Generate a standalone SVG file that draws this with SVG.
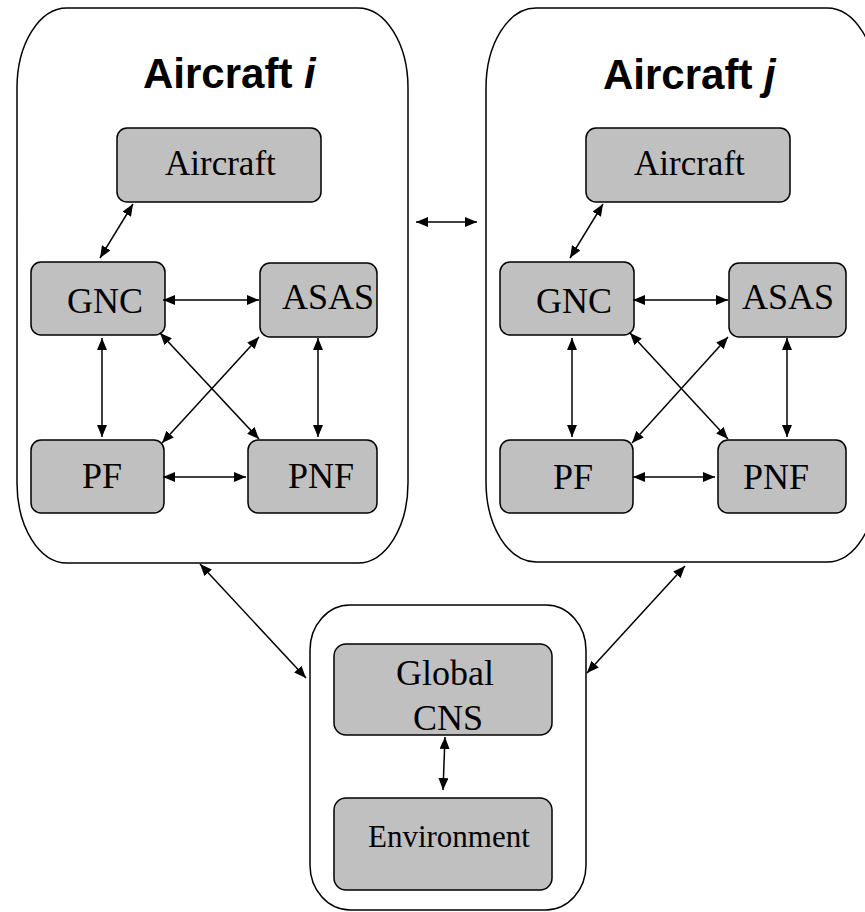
<svg xmlns="http://www.w3.org/2000/svg" width="865" height="912" viewBox="0 0 865 912">
  <style>
    .frame { fill: #ffffff; stroke: #000000; stroke-width: 1.5; }
    .box { fill: #c0c0c0; stroke: #000000; stroke-width: 1.5; }
    .title { font-family: "Liberation Sans", Arial, sans-serif; font-weight: bold; font-size: 42px; fill: #000000; }
    .label { font-family: "Liberation Serif", "Times New Roman", serif; font-size: 36px; fill: #000000; }
    .small { font-size: 35px; }
    .env { font-size: 31px; }
    .link { fill: none; stroke: #000000; stroke-width: 1.5; marker-start: url(#head); marker-end: url(#head); }
  </style>
  <defs>
    <marker id="head" viewBox="0 0 12 10" refX="12" refY="5" markerWidth="12" markerHeight="10" markerUnits="userSpaceOnUse" orient="auto-start-reverse">
      <path d="M0,0 L12,5 L0,10 z" fill="#000000"/>
    </marker>
  </defs>

  <rect width="865" height="912" fill="#ffffff"/>

  <!-- Aircraft i container -->
  <g id="aircraft-i">
    <rect class="frame" x="17" y="8" width="391" height="555" rx="50" ry="80"/>
    <text class="title" x="143" y="88">Aircraft <tspan font-style="italic">i</tspan></text>
    <g id="i-aircraft">
      <rect class="box" x="117" y="128" width="204" height="74" rx="10"/>
      <text class="label small" x="165" y="175">Aircraft</text>
    </g>
    <g id="i-gnc">
      <rect class="box" x="31" y="262" width="134" height="73" rx="10"/>
      <text class="label" x="67" y="313">GNC</text>
    </g>
    <g id="i-asas">
      <rect class="box" x="260" y="263" width="117" height="74" rx="10"/>
      <text class="label" x="282" y="309">ASAS</text>
    </g>
    <g id="i-pf">
      <rect class="box" x="31" y="440" width="133" height="73" rx="10"/>
      <text class="label" x="82" y="488">PF</text>
    </g>
    <g id="i-pnf">
      <rect class="box" x="248" y="440" width="129" height="73" rx="10"/>
      <text class="label" x="288" y="488">PNF</text>
    </g>
  </g>

  <!-- Aircraft j container (runs past the right edge of the canvas) -->
  <g id="aircraft-j">
    <rect class="frame" x="486" y="8" width="391" height="554" rx="50" ry="80"/>
    <text class="title" x="603" y="89">Aircraft <tspan font-style="italic">j</tspan></text>
    <g id="j-aircraft">
      <rect class="box" x="586" y="128" width="204" height="74" rx="10"/>
      <text class="label small" x="634" y="175">Aircraft</text>
    </g>
    <g id="j-gnc">
      <rect class="box" x="500" y="262" width="134" height="73" rx="10"/>
      <text class="label" x="536" y="313">GNC</text>
    </g>
    <g id="j-asas">
      <rect class="box" x="729" y="263" width="117" height="74" rx="10"/>
      <text class="label" x="742" y="309">ASAS</text>
    </g>
    <g id="j-pf">
      <rect class="box" x="500" y="440" width="133" height="73" rx="10"/>
      <text class="label" x="553" y="489">PF</text>
    </g>
    <g id="j-pnf">
      <rect class="box" x="718" y="440" width="128" height="73" rx="10"/>
      <text class="label" x="743" y="489">PNF</text>
    </g>
  </g>

  <!-- Ground side container -->
  <g id="ground">
    <rect class="frame" x="310" y="605" width="276" height="305" rx="40" ry="45"/>
    <g id="global-cns">
      <rect class="box" x="334" y="644" width="218" height="91" rx="12"/>
      <text class="label" x="396" y="685">Global</text>
      <text class="label" x="413" y="730">CNS</text>
    </g>
    <g id="environment">
      <rect class="box" x="334" y="798" width="218" height="92" rx="12"/>
      <text class="label env" x="368" y="847">Environment</text>
    </g>
  </g>

  <!-- Two-way links -->
  <g id="connectors">
    <!-- inside aircraft i -->
    <line class="link" x1="133" y1="204" x2="100" y2="258"/>
    <line class="link" x1="163" y1="300" x2="259" y2="300"/>
    <line class="link" x1="102" y1="338" x2="102" y2="437"/>
    <line class="link" x1="318" y1="338" x2="318" y2="437"/>
    <line class="link" x1="160" y1="333" x2="259" y2="439"/>
    <line class="link" x1="259" y1="337" x2="162" y2="443"/>
    <line class="link" x1="163" y1="477" x2="246" y2="477"/>
    <!-- inside aircraft j -->
    <line class="link" x1="603" y1="204" x2="570" y2="258"/>
    <line class="link" x1="633" y1="300" x2="728" y2="300"/>
    <line class="link" x1="572" y1="338" x2="572" y2="437"/>
    <line class="link" x1="787" y1="338" x2="787" y2="437"/>
    <line class="link" x1="630" y1="333" x2="728" y2="439"/>
    <line class="link" x1="728" y1="337" x2="632" y2="443"/>
    <line class="link" x1="633" y1="477" x2="715" y2="477"/>
    <!-- between aircraft -->
    <line class="link" x1="416" y1="222" x2="477" y2="222"/>
    <!-- aircraft to ground -->
    <line class="link" x1="200" y1="564" x2="306" y2="678"/>
    <line class="link" x1="685" y1="566" x2="587" y2="673"/>
    <!-- inside ground -->
    <line class="link" x1="445" y1="737" x2="443" y2="790"/>
  </g>
</svg>
